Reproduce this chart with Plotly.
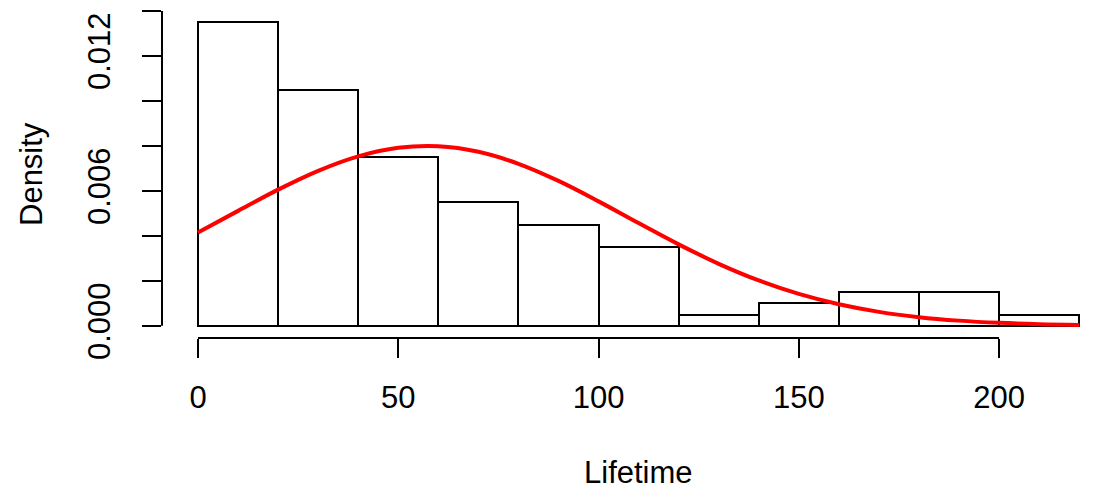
import plotly.graph_objects as go

# Histogram data (Lifetime)
breaks = [0, 20, 40, 60, 80, 100, 120, 140, 160, 180, 200, 220]
counts = [27, 21, 15, 11, 9, 7, 1, 2, 3, 3, 1]

# Fitted normal density curve
curve_x = [0, 10, 20, 30, 40, 50, 60, 70, 80, 90, 100, 110, 120, 130, 140,
           150, 160, 170, 180, 190, 200, 210, 220]
curve_y = [0.004145, 0.005111, 0.006055, 0.006891, 0.007534, 0.007913, 0.007982,
           0.007736, 0.007203, 0.006442, 0.005534, 0.004568, 0.003622, 0.002758,
           0.002018, 0.001418, 0.000958, 0.000621, 0.000387, 0.000232, 0.000133,
           0.0000736, 0.000039]

x_ticks = [0, 50, 100, 150, 200]
y_ticks = [0, 0.002, 0.004, 0.006, 0.008, 0.010, 0.012, 0.014]
y_ticktext = ["0.000", "", "", "0.006", "", "", "0.012", ""]

n = sum(counts)
widths = [breaks[i + 1] - breaks[i] for i in range(len(counts))]
mids = [(breaks[i] + breaks[i + 1]) / 2 for i in range(len(counts))]
density = [c / (n * w) for c, w in zip(counts, widths)]

FONT = "Liberation Sans, Arial, Helvetica, sans-serif"
FS = 31

xlim = [-8.99, 224.7]
ymax = max(density)
ylim = [-0.04 * ymax, ymax * 1.04]

fig = go.Figure()
fig.add_trace(go.Bar(
    x=mids, y=density, width=widths,
    marker=dict(color="white", line=dict(color="black", width=2)),
    hoverinfo="skip", showlegend=False,
))
fig.add_trace(go.Scatter(
    x=curve_x, y=curve_y, mode="lines", line=dict(color="#ff0000", width=4, shape="spline"),
    showlegend=False,
))

# R-style detached axis lines
fig.add_shape(type="line", xref="x", yref="paper", x0=x_ticks[0], x1=x_ticks[-1], y0=0, y1=0,
              line=dict(color="black", width=2))
fig.add_shape(type="line", xref="paper", yref="y", x0=0, x1=0, y0=y_ticks[0], y1=y_ticks[-1],
              line=dict(color="black", width=2))

fig.add_annotation(text="Lifetime", xref="x", yref="paper", x=110, y=0,
                   yshift=-134, showarrow=False, font=dict(family=FONT, size=FS, color="black"),
                   xanchor="center", yanchor="middle")
fig.add_annotation(text="Density", xref="paper", yref="y", x=0, y=sum(ylim) / 2,
                   xshift=-131, textangle=-90, showarrow=False,
                   font=dict(family=FONT, size=FS, color="black"),
                   xanchor="center", yanchor="middle")

fig.update_layout(
    width=1098, height=492, autosize=False,
    margin=dict(l=162, r=0, t=10, b=154, pad=0),
    plot_bgcolor="white", paper_bgcolor="white",
    bargap=0,
    font=dict(family=FONT, size=FS, color="black"),
    xaxis=dict(range=xlim, tickvals=x_ticks, ticktext=[str(v) for v in x_ticks],
               ticks="outside", ticklen=19, tickwidth=2, tickcolor="black",
               showgrid=False, zeroline=False, showline=False,
               tickfont=dict(family=FONT, size=FS, color="black"), ticklabelstandoff=13),
    yaxis=dict(range=ylim, tickvals=y_ticks, ticktext=y_ticktext, tickangle=-90,
               ticks="outside", ticklen=19, tickwidth=2, tickcolor="black",
               showgrid=False, zeroline=False, showline=False,
               tickfont=dict(family=FONT, size=FS, color="black"), ticklabelstandoff=20),
)

fig.write_html("out.html", config={"displayModeBar": False},
               post_script="document.body.style.margin='0px';document.body.style.overflow='hidden';")
